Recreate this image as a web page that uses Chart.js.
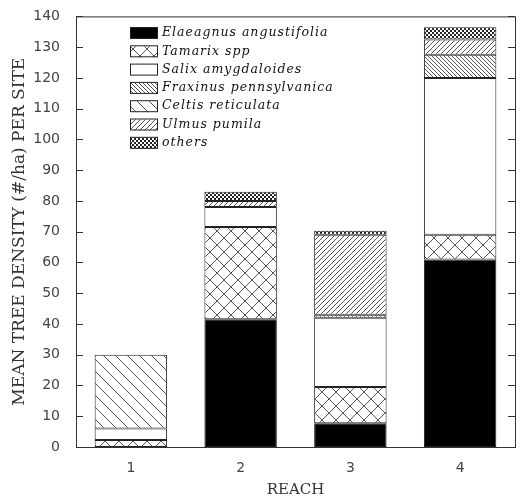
<!DOCTYPE html>
<html>
<head>
<meta charset="utf-8">
<script src="https://cdn.jsdelivr.net/npm/chart.js@4"></script>
<style>
  body { margin: 0; background: #fff; }
</style>
</head>
<body>
<canvas id="densityChart" width="521" height="499"></canvas>
<script>
// Reach categories and stacked species densities (#/ha)
const reaches = ['1', '2', '3', '4'];
const elaeagnus = [0, 41.5, 7.7, 61];
const tamarix = [2.3, 30, 11.8, 8];
const salix = [3.7, 6.5, 22.5, 51];
const fraxinus = [0, 0, 1, 7.5];
const celtis = [24, 0, 0, 0];
const ulmus = [0, 2, 26, 5];
const others = [0, 3, 1.3, 4];
const yTicks = [0, 10, 20, 30, 40, 50, 60, 70, 80, 90, 100, 110, 120, 130, 140];

// small helper to build hatch patterns
function makePattern(size, draw) {
    const c = document.createElement('canvas');
    c.width = size;
    c.height = size;
    const g = c.getContext('2d');
    g.fillStyle = '#fff';
    g.fillRect(0, 0, size, size);
    g.strokeStyle = '#555';
    g.fillStyle = '#222';
    g.lineWidth = 1;
    draw(g, size);
    return g.createPattern(c, 'repeat');
}

const ctx = document.getElementById('densityChart').getContext('2d');

const crossPat = makePattern(14, (g, s) => {
    g.beginPath();
    g.moveTo(0, 0); g.lineTo(s, s);
    g.moveTo(s, 0); g.lineTo(0, s);
    g.stroke();
});
const sparseDown = makePattern(12, (g, s) => {
    g.beginPath();
    g.moveTo(-1, -1); g.lineTo(s + 1, s + 1);
    g.stroke();
});
const denseDown = makePattern(4, (g, s) => {
    g.beginPath();
    g.moveTo(-1, -1); g.lineTo(s + 1, s + 1);
    g.stroke();
});
const denseUp = makePattern(5, (g, s) => {
    g.beginPath();
    g.moveTo(-1, s + 1); g.lineTo(s + 1, -1);
    g.stroke();
});
const checkPat = makePattern(4, (g, s) => {
    g.fillRect(0, 0, 2, 2);
    g.fillRect(2, 2, 2, 2);
});

const series = [
    { label: 'Elaeagnus angustifolia', data: elaeagnus, fill: '#000' },
    { label: 'Tamarix spp', data: tamarix, fill: crossPat },
    { label: 'Salix amygdaloides', data: salix, fill: '#fff' },
    { label: 'Fraxinus pennsylvanica', data: fraxinus, fill: denseDown },
    { label: 'Celtis reticulata', data: celtis, fill: sparseDown },
    { label: 'Ulmus pumila', data: ulmus, fill: denseUp },
    { label: 'others', data: others, fill: checkPat }
];

// frame, inner ticks and legend box
const framePlugin = {
    id: 'frame',
    afterDraw(chart) {
        const c = chart.ctx;
        const a = chart.chartArea;
        const y = chart.scales.y;
        c.save();
        c.strokeStyle = '#333';
        c.lineWidth = 1;
        c.strokeRect(a.left + 0.5, a.top + 0.5, a.right - a.left, a.bottom - a.top);
        c.beginPath();
        yTicks.forEach(v => {
            const py = Math.round(y.getPixelForValue(v)) + 0.5;
            c.moveTo(a.left, py); c.lineTo(a.left + 7, py);
            c.moveTo(a.right, py); c.lineTo(a.right - 7, py);
        });
        c.stroke();

        // legend
        c.font = 'italic 12.5px "DejaVu Serif"';
        c.letterSpacing = '1px';
        c.textBaseline = 'middle';
        series.forEach((s, i) => {
            const cy = 33 + i * 18.3;
            c.fillStyle = s.fill;
            c.fillRect(130, cy - 5, 27, 11);
            c.strokeStyle = '#222';
            c.strokeRect(130.5, cy - 5.5, 27, 11);
            c.fillStyle = '#111';
            c.fillText(s.label, 162, cy);
        });
        c.restore();
    }
};

new Chart(ctx, {
    type: 'bar',
    data: {
        labels: reaches,
        datasets: series.map(s => ({
            label: s.label,
            data: s.data.map(v => (v === 0 ? null : v)),
            backgroundColor: s.fill,
            borderColor: '#222',
            borderWidth: 1,
            borderSkipped: false,
            categoryPercentage: 0.66,
            barPercentage: 1.0
        }))
    },
    options: {
        responsive: false,
        animation: false,
        layout: { padding: { top: 11, right: 6, left: 0, bottom: 0 } },
        plugins: {
            legend: { display: false },
            tooltip: { enabled: false }
        },
        scales: {
            x: {
                stacked: true,
                grid: { display: false },
                border: { display: false },
                ticks: { color: '#444', font: { family: 'DejaVu Sans', size: 14 }, padding: 5 },
                title: {
                    display: true,
                    text: 'REACH',
                    color: '#333',
                    font: { family: 'DejaVu Serif', size: 15 },
                    padding: { top: 1, bottom: 0 }
                },
                afterFit: s => { s.height = 52; }
            },
            y: {
                stacked: true,
                min: 0,
                max: 140,
                afterBuildTicks: s => { s.ticks = yTicks.map(v => ({ value: v })); },
                grid: { display: false },
                border: { display: false },
                ticks: { color: '#444', font: { family: 'DejaVu Sans', size: 14 }, padding: 8 },
                title: {
                    display: true,
                    text: 'MEAN TREE DENSITY (#/ha) PER SITE',
                    color: '#333',
                    font: { family: 'DejaVu Serif', size: 17 },
                    padding: { top: 9, bottom: 0 }
                },
                afterFit: s => { s.width = 76; }
            }
        }
    },
    plugins: [framePlugin]
});
</script>
</body>
</html>
